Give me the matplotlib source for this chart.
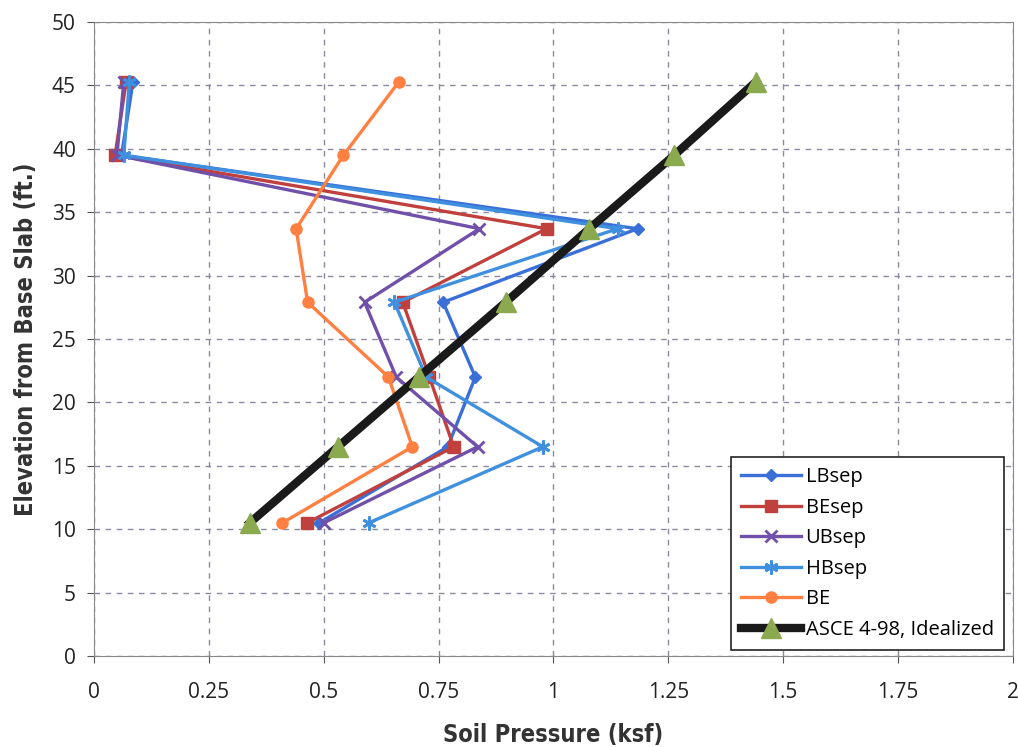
import numpy as np
import matplotlib
matplotlib.use("Agg")
import matplotlib.pyplot as plt

# elevations (ft) shared by all series
elev = [10.5, 16.5, 22.0, 27.9, 33.7, 39.5, 45.3]

lb_sep = [0.49, 0.77, 0.83, 0.76, 1.183, 0.06, 0.085]
be_sep = [0.464, 0.783, 0.73, 0.672, 0.985, 0.046, 0.07]
ub_sep = [0.50, 0.835, 0.658, 0.589, 0.839, 0.05, 0.065]
hb_sep = [0.598, 0.977, 0.723, 0.654, 1.14, 0.065, 0.077]
be = [0.41, 0.693, 0.641, 0.465, 0.44, 0.543, 0.664]
asce = [0.339, 0.531, 0.707, 0.896, 1.078, 1.263, 1.441]

x_ticks = ['0', '0.25', '0.5', '0.75', '1', '1.25', '1.5', '1.75', '2']

plt.rcParams['font.family'] = ['Open Sans', 'DejaVu Sans']

fig = plt.figure(figsize=(10.18, 7.47), dpi=100)
ax = fig.add_axes([0.0923, 0.1218, 0.9027, 0.8487])

lw = 2.4
ax.plot(lb_sep, elev, color='#3B6FD8', lw=lw, marker='D', ms=6, label='LBsep')
ax.plot(be_sep, elev, color='#C0403D', lw=lw, marker='s', ms=8, label='BEsep')
ax.plot(ub_sep, elev, color='#7050A8', lw=lw, marker='x', ms=9, mew=2, label='UBsep')
ax.plot(hb_sep, elev, color='#3F90DE', lw=lw, marker=(6, 2, 0), ms=10, mew=2, label='HBsep')
ax.plot(be, elev, color='#FF8040', lw=lw, marker='o', ms=8, label='BE')
ax.plot(asce, elev, color='#1a1a1a', lw=6, marker='^', ms=14,
        mfc='#8BAA50', mec='#8BAA50', label='ASCE 4-98, Idealized')

ax.set_xlim(0, 2)
ax.set_ylim(0, 50)
ax.set_xticks(np.arange(0, 2.01, 0.25))
ax.set_xticklabels(x_ticks)
ax.set_yticks(range(0, 51, 5))
ax.tick_params(labelsize=15, colors='#555555', length=5, direction='out')
ax.tick_params(axis='x', pad=14)
ax.tick_params(axis='y', pad=8)
for t in ax.get_xticklabels() + ax.get_yticklabels():
    t.set_color('#222222')

ax.grid(True, ls=(0, (4, 4)), color='#8a8aa0', lw=1)
for s in ax.spines.values():
    s.set_color('#888888')

lab = dict(fontsize=17, fontweight='bold', color='#333333',
           family='DejaVu Sans', fontstretch='condensed')
ax.set_xlabel('Soil Pressure (ksf)', labelpad=14, **lab)
ax.set_ylabel('Elevation from Base Slab (ft.)', labelpad=10, **lab)

leg = ax.legend(loc='lower right', bbox_to_anchor=(0.99, 0.01), borderaxespad=0,
                fontsize=14.5, fancybox=False, edgecolor='#222222', framealpha=1,
                handlelength=3.0, handletextpad=0.2, labelspacing=0.52,
                borderpad=0.5)
leg.get_frame().set_linewidth(1.2)

fig.savefig('out.png', dpi=100)
